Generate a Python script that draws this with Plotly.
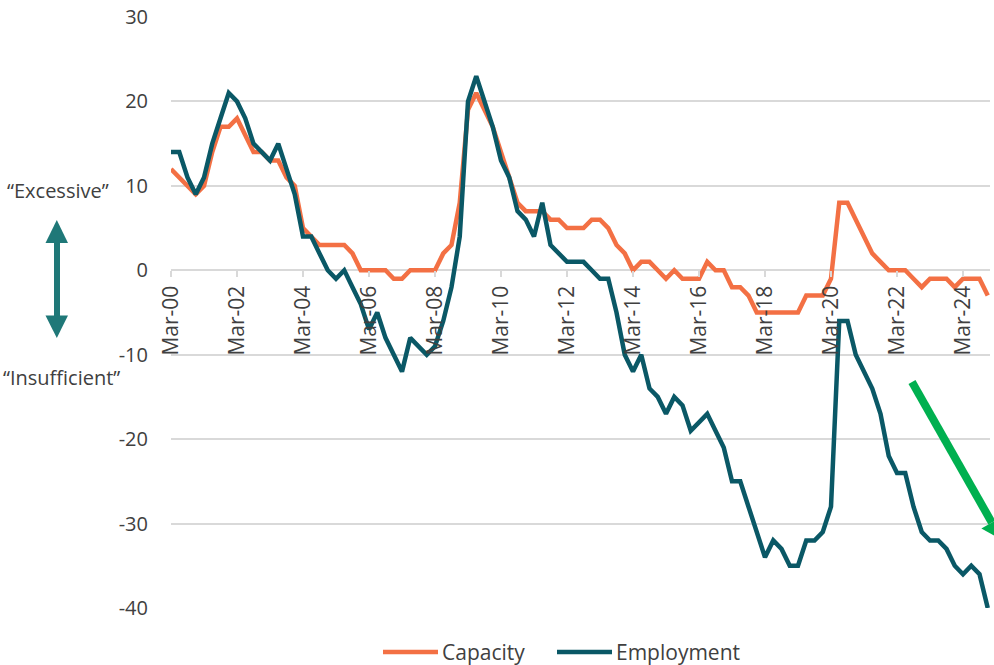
import plotly.graph_objects as go

# Quarterly labels, Mar-00 .. Dec-24
quarters = [f"{m}-{y:02d}" for y in range(0, 25) for m in ("Mar", "Jun", "Sep", "Dec")]

capacity = [
    12, 11, 10, 9, 10, 14, 17, 17, 18, 16, 14, 14, 13, 13, 11, 10,
    5, 4, 3, 3, 3, 3, 2, 0, 0, 0, 0, -1, -1, 0, 0, 0,
    0, 2, 3, 8, 19, 21, 19, 17, 14, 11, 8, 7, 7, 7, 6, 6,
    5, 5, 5, 6, 6, 5, 3, 2, 0, 1, 1, 0, -1, 0, -1, -1,
    -1, 1, 0, 0, -2, -2, -3, -5, -5, -5, -5, -5, -5, -3, -3, -3,
    -1, 8, 8, 6, 4, 2, 1, 0, 0, 0, -1, -2, -1, -1, -1, -2,
    -1, -1, -1, -3,
]

employment = [
    14, 14, 11, 9, 11, 15, 18, 21, 20, 18, 15, 14, 13, 15, 12, 9,
    4, 4, 2, 0, -1, 0, -2, -4, -7, -5, -8, -10, -12, -8, -9, -10,
    -9, -6, -2, 4, 20, 23, 20, 17, 13, 11, 7, 6, 4, 8, 3, 2,
    1, 1, 1, 0, -1, -1, -5, -10, -12, -10, -14, -15, -17, -15, -16, -19,
    -18, -17, -19, -21, -25, -25, -28, -31, -34, -32, -33, -35, -35, -32, -32, -31,
    -28, -6, -6, -10, -12, -14, -17, -22, -24, -24, -28, -31, -32, -32, -33, -35,
    -36, -35, -36, -40,
]

y_ticks = [30, 20, 10, 0, -10, -20, -30, -40]
x_ticks = quarters[::8]

ORANGE = "#F37044"
TEAL = "#0A5866"
ARROW_TEAL = "#1F7878"
GREEN = "#00B050"
GRID = "#D9D9D9"
TEXT = "#404040"
FONT = "Open Sans"

W, H = 994, 665
L, R, T, B = 171, 4, 17, 57
PW, PH = W - L - R, H - T - B


def px(x):
    return (x - L) / PW


def py(y):
    return (H - B - y) / PH


fig = go.Figure()
fig.add_trace(go.Scatter(x=quarters, y=capacity, mode="lines", name="Capacity",
                         line=dict(color=ORANGE, width=4.5), cliponaxis=False,
                         showlegend=False))
fig.add_trace(go.Scatter(x=quarters, y=employment, mode="lines", name="Employment",
                         line=dict(color=TEAL, width=4.5), cliponaxis=False,
                         showlegend=False))

shapes = []
# double-headed arrow beside the y axis
shapes.append(dict(type="rect", xref="paper", yref="paper",
                   x0=px(54), x1=px(60), y0=py(318), y1=py(240),
                   fillcolor=ARROW_TEAL, line=dict(width=0)))
for base, tip in ((243, 220), (315.5, 338)):
    shapes.append(dict(type="path", xref="paper", yref="paper",
                       path=f"M{px(45.5)},{py(base)} L{px(68)},{py(base)} L{px(56.8)},{py(tip)} Z",
                       fillcolor=ARROW_TEAL, line=dict(width=0)))

# green trend arrow
shapes.append(dict(type="line", xref="paper", yref="paper",
                   x0=px(912), y0=py(382), x1=px(991.8), y1=py(522.5),
                   line=dict(color=GREEN, width=8)))
shapes.append(dict(type="path", xref="paper", yref="paper",
                   path=f"M{px(1002.2)},{py(516.6)} L{px(981.4)},{py(528.4)} L{px(1001.7)},{py(539.9)} Z",
                   fillcolor=GREEN, line=dict(width=0)))

# legend keys
for x0, x1, c in ((383, 438, ORANGE), (557, 612, TEAL)):
    shapes.append(dict(type="line", xref="paper", yref="paper",
                       x0=px(x0), x1=px(x1), y0=py(652), y1=py(652),
                       line=dict(color=c, width=4.5)))

annotations = [
    dict(text="\u201cExcessive\u201d", x=px(57.5), y=py(190)),
    dict(text="\u201cInsufficient\u201d", x=px(61), y=py(377)),
    dict(text="Capacity", x=px(440), y=py(652), xanchor="left"),
    dict(text="Employment", x=px(614), y=py(652), xanchor="left"),
]
for a in annotations:
    a.update(xref="paper", yref="paper", showarrow=False,
             font=dict(family=FONT, size=20 if "\u201c" in a["text"] else 21, color=TEXT))
    a.setdefault("xanchor", "center")
    a["yanchor"] = "middle"

fig.update_layout(
    width=W, height=H,
    margin=dict(l=L, r=R, t=T, b=B),
    paper_bgcolor="white", plot_bgcolor="white",
    font=dict(family=FONT, color=TEXT),
    shapes=shapes, annotations=annotations,
    xaxis=dict(
        type="category", categoryorder="array", categoryarray=quarters,
        range=[0, PW / 8.25], anchor="free", position=40 / 70,
        showgrid=False, showline=False, zeroline=False,
        tickvals=x_ticks, ticktext=x_ticks, tickangle=-90,
        ticks="outside", ticklen=6, tickwidth=1.5, tickcolor=GRID,
        tickfont=dict(family=FONT, size=21, color=TEXT),
    ),
    yaxis=dict(
        range=[-40, 30], tickvals=y_ticks, ticktext=[str(v) for v in y_ticks],
        showgrid=True, gridcolor=GRID, gridwidth=1.5,
        zeroline=False, showline=False, ticks="",
        ticklabelstandoff=22,
        tickfont=dict(family=FONT, size=20, color=TEXT),
    ),
)

fig.write_html("out.html")
